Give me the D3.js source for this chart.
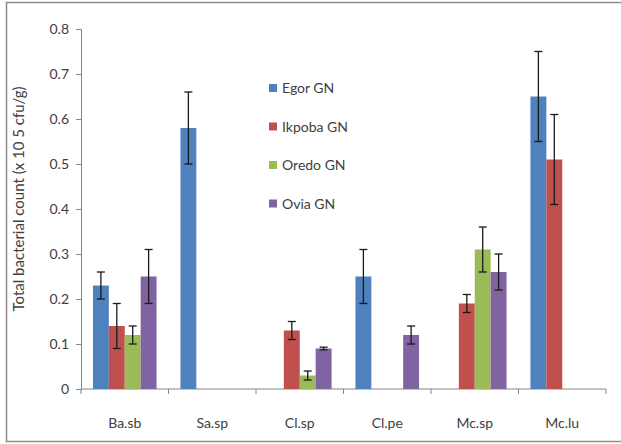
<!DOCTYPE html>
<html>
<head>
<meta charset="utf-8">
<script src="https://cdn.jsdelivr.net/npm/d3@7"></script>
<style>
  html, body { margin: 0; padding: 0; background: #fff; }
  svg { display: block; }
  text { font-family: Lato, "Open Sans", sans-serif; fill: #404040; }
</style>
</head>
<body>
<svg id="chart" width="621" height="444"></svg>
<script>
// Sampling sites (series) and isolates (categories)
const categories = ["Ba.sb", "Sa.sp", "Cl.sp", "Cl.pe", "Mc.sp", "Mc.lu"];
const seriesNames = ["Egor GN", "Ikpoba GN", "Oredo GN", "Ovia GN"];
const seriesColors = ["#4F81BD", "#C0504D", "#9BBB59", "#8064A2"];

// Mean counts per series, one value per category
const egor   = [0.23, 0.58, 0,    0.25, 0,    0.65];
const ikpoba = [0.14, 0,    0.13, 0,    0.19, 0.51];
const oredo  = [0.12, 0,    0.03, 0,    0.31, 0];
const ovia   = [0.25, 0,    0.09, 0.12, 0.26, 0];

// Error (± deviation) per series
const egorErr   = [0.03, 0.08, 0,    0.06, 0,    0.10];
const ikpobaErr = [0.05, 0,    0.02, 0,    0.02, 0.10];
const oredoErr  = [0.02, 0,    0.01, 0,    0.05, 0];
const oviaErr   = [0.06, 0,    0.003, 0.02, 0.04, 0];

const yTicks = [0, 0.1, 0.2, 0.3, 0.4, 0.5, 0.6, 0.7, 0.8];

const values = [egor, ikpoba, oredo, ovia];
const errors = [egorErr, ikpobaErr, oredoErr, oviaErr];

const svg = d3.select("#chart");

// Chart area frame
svg.append("rect")
  .attr("x", 6.5).attr("y", 2.5)
  .attr("width", 640).attr("height", 439)
  .attr("fill", "#fff")
  .attr("stroke", "#8c8c8c").attr("stroke-width", 1.5);

const plot = { left: 81, right: 606, top: 29, bottom: 389 };

const x0 = d3.scaleBand()
  .domain(categories)
  .range([plot.left, plot.right])
  .paddingInner(0).paddingOuter(0);

const barW = x0.bandwidth() / 5.5;
const x1 = d3.scaleBand()
  .domain(seriesNames)
  .range([0, barW * 4]);
const groupOffset = (x0.bandwidth() - barW * 4) / 2;

const y = d3.scaleLinear().domain([0, 0.8]).range([plot.bottom, plot.top]);

// Y axis
const yAxis = svg.append("g")
  .attr("transform", `translate(${plot.left},0)`)
  .call(d3.axisLeft(y).tickValues(yTicks).tickSize(5).tickPadding(7)
    .tickFormat(d => d === 0 ? "0" : d3.format(".1f")(d)));
yAxis.selectAll("path, line").attr("stroke", "#868686");
yAxis.selectAll("text").attr("font-size", 14).attr("fill", "#404040")
  .style("font-family", "Lato, 'Open Sans', sans-serif");

// X axis with ticks at category boundaries
const xAxisG = svg.append("g").attr("transform", `translate(0,${plot.bottom})`);
xAxisG.append("line")
  .attr("x1", plot.left).attr("x2", plot.right)
  .attr("stroke", "#868686");
const bounds = categories.map(c => x0(c)).concat([plot.right]);
xAxisG.selectAll("line.tick").data(bounds).join("line")
  .attr("class", "tick")
  .attr("x1", d => d).attr("x2", d => d)
  .attr("y1", 0).attr("y2", 5)
  .attr("stroke", "#868686");
xAxisG.selectAll("text").data(categories).join("text")
  .attr("x", d => x0(d) + x0.bandwidth() / 2)
  .attr("y", 39)
  .attr("text-anchor", "middle")
  .attr("font-size", 14)
  .text(d => d);

// Y axis title
svg.append("text")
  .attr("transform", `translate(24,199) rotate(-90)`)
  .attr("text-anchor", "middle")
  .attr("font-size", 15)
  .text("Total bacterial count (x 10 5 cfu/g)");

// Bars
const bars = [];
categories.forEach((c, ci) => {
  seriesNames.forEach((s, si) => {
    bars.push({ c, s, si, v: values[si][ci], e: errors[si][ci] });
  });
});
const shown = bars.filter(d => d.v > 0);

svg.append("g").selectAll("rect").data(shown).join("rect")
  .attr("x", d => x0(d.c) + groupOffset + x1(d.s))
  .attr("y", d => y(d.v))
  .attr("width", x1.bandwidth())
  .attr("height", d => y(0) - y(d.v))
  .attr("fill", d => seriesColors[d.si]);

// Error bars
const eg = svg.append("g").attr("stroke", "#1a1a1a").attr("stroke-width", 1.3);
shown.forEach(d => {
  const cx = x0(d.c) + groupOffset + x1(d.s) + x1.bandwidth() / 2;
  const yt = y(d.v + d.e), yb = y(d.v - d.e);
  eg.append("line").attr("x1", cx).attr("x2", cx).attr("y1", yt).attr("y2", yb);
  eg.append("line").attr("x1", cx - 4).attr("x2", cx + 4).attr("y1", yt).attr("y2", yt);
  eg.append("line").attr("x1", cx - 4).attr("x2", cx + 4).attr("y1", yb).attr("y2", yb);
});

// Legend
const legend = svg.append("g");
seriesNames.forEach((s, i) => {
  const ly = 88 + i * 38.5;
  legend.append("rect")
    .attr("x", 269).attr("y", ly - 4).attr("width", 8).attr("height", 8)
    .attr("fill", seriesColors[i]);
  legend.append("text")
    .attr("x", 282).attr("y", ly + 5)
    .attr("font-size", 14)
    .text(s);
});
</script>
</body>
</html>
